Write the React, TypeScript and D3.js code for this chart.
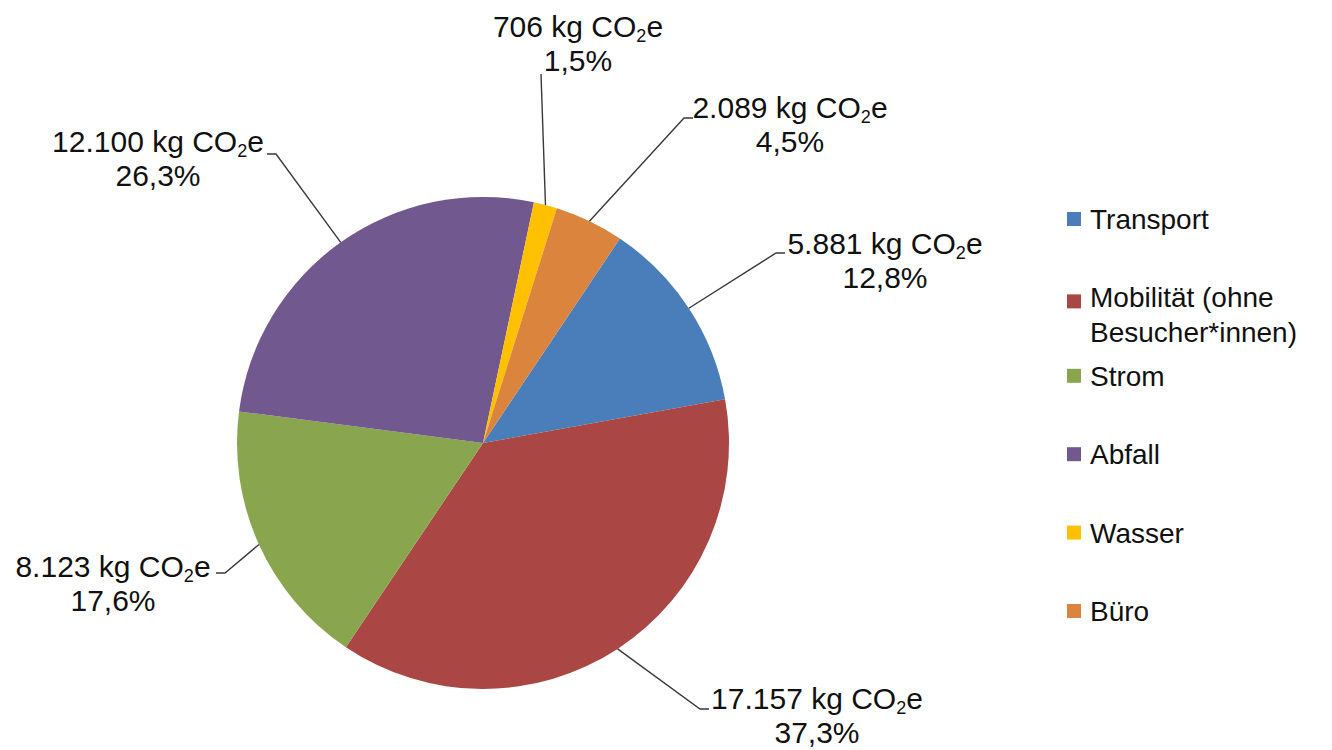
import React from "react";
import * as d3 from "d3";

const categories = ["Transport", "Mobilität (ohne Besucher*innen)", "Strom", "Abfall", "Wasser", "Büro"];
const legendLines = [["Transport"], ["Mobilität (ohne", "Besucher*innen)"], ["Strom"], ["Abfall"], ["Wasser"], ["Büro"]];
const values = [5881, 17157, 8123, 12100, 706, 2089];
const colors = ["#4A7EBB", "#AA4643", "#89A54E", "#71588F", "#FFC000", "#DB843D"];

// label layout: elbow point (where leader line meets label), text centre x, first baseline y
const labelLayout = [
  { ex: 776, ey: 253, side: "right", tx: 885, ty: 254 },
  { ex: 700, ey: 709, side: "right", tx: 817, ty: 709 },
  { ex: 225, ey: 573, side: "left", tx: 113, ty: 577 },
  { ex: 276, ey: 154, side: "left", tx: 158, ty: 152 },
  { ex: 541, ey: 74, side: "top", tx: 578, ty: 37 },
  { ex: 684, ey: 118, side: "right", tx: 790, ty: 118 },
];

const W = 1332, H = 750;
const cx = 483, cy = 443, R = 246;
const FONT = "'Liberation Sans', Arial, sans-serif";

const de = d3.formatLocale({ decimal: ",", thousands: ".", grouping: [3], currency: ["", "€"] });
const fmtInt = de.format(",d");
const fmtPct = de.format(".1f");

export default function App() {
  const total = d3.sum(values);
  const start = (33.8 * Math.PI) / 180;
  const pie = d3.pie<number>().sort(null).startAngle(start).endAngle(start + 2 * Math.PI);
  const arcs = pie(values);
  const arc = d3.arc<d3.PieArcDatum<number>>().innerRadius(0).outerRadius(R);

  const legendY0 = 219, legendStep = 78.4;

  return (
    <svg width={W} height={H} style={{ position: "absolute", left: 0, top: 0, background: "#fff" }} fontFamily={FONT}>
      <rect width={W} height={H} fill="#fff" />
      <g transform={`translate(${cx},${cy})`}>
        {arcs.map((a, i) => (
          <path key={i} d={arc(a) || ""} fill={colors[i]} />
        ))}
      </g>
      {arcs.map((a, i) => {
        const mid = (a.startAngle + a.endAngle) / 2;
        const px = cx + R * Math.sin(mid);
        const py = cy - R * Math.cos(mid);
        const L = labelLayout[i];
        let pts: [number, number][];
        if (L.side === "right") pts = [[px, py], [L.ex, L.ey], [L.ex + 9, L.ey]];
        else if (L.side === "left") pts = [[px, py], [L.ex, L.ey], [L.ex - 9, L.ey]];
        else pts = [[px, py], [L.ex, L.ey]];
        const pct = (values[i] / total) * 100;
        return (
          <g key={i}>
            <path d={d3.line()(pts) || ""} fill="none" stroke="#3a3a3a" strokeWidth={1.4} />
            <text x={L.tx} y={L.ty} textAnchor="middle" fontSize={30} fill="#111">
              {`${fmtInt(values[i])} kg CO`}
              <tspan fontSize={18} dy={5}>2</tspan>
              <tspan dy={-5}>e</tspan>
            </text>
            <text x={L.tx} y={L.ty + 34} textAnchor="middle" fontSize={30} fill="#111">
              {`${fmtPct(pct)}%`}
            </text>
          </g>
        );
      })}
      <g>
        {categories.map((c, i) => {
          const y = legendY0 + i * legendStep;
          return (
            <g key={c}>
              <rect x={1067} y={y - 7 + (legendLines[i].length > 1 ? 4 : 0)} width={14} height={14} fill={colors[i]} />
              {legendLines[i].map((t, j) => (
                <text key={j} x={1090} y={y + 10 + j * 35} fontSize={28} fill="#111">{t}</text>
              ))}
            </g>
          );
        })}
      </g>
    </svg>
  );
}
